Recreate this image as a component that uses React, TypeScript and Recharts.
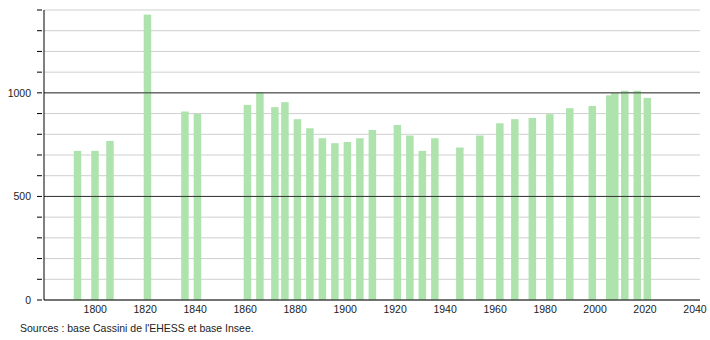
import { Bar, BarChart, CartesianGrid, ReferenceLine, XAxis, YAxis } from "recharts";

const years = [
  1793, 1800, 1806, 1821, 1836, 1841, 1861, 1866, 1872, 1876, 1881, 1886, 1891, 1896, 1901, 1906, 1911, 1921,
  1926, 1931, 1936, 1946, 1954, 1962, 1968, 1975, 1982, 1990, 1999, 2006, 2008, 2012, 2017, 2021,
];
const population = [
  720, 720, 768, 1378, 910, 899, 942, 1003, 931, 955, 873, 829, 781, 757, 763, 781, 821, 845, 794, 720, 781,
  736, 794, 853, 873, 879, 897, 926, 937, 988, 1000, 1010, 1010, 976,
];
const xTicks = [1800, 1820, 1840, 1860, 1880, 1900, 1920, 1940, 1960, 1980, 2000, 2020, 2040];
const yTicks = [0, 100, 200, 300, 400, 500, 600, 700, 800, 900, 1000, 1100, 1200, 1300, 1400];
const yLabels = [0, 500, 1000];

const data = years.map((year, i) => ({ year, population: population[i] }));

const FONT = "'Liberation Sans', Arial, sans-serif";
const BAR_W = 7.5;

function YTick(props: any) {
  const { x, y, payload } = props;
  const v = payload.value as number;
  return (
    <g>
      <line x1={x + 1} x2={x + 6} y1={y} y2={y} stroke="#000" />
      {yLabels.includes(v) && (
        <text x={x - 5} y={y} dy={4} textAnchor="end" fontSize={10.5} fill="#222" fontFamily={FONT}>
          {v}
        </text>
      )}
    </g>
  );
}

// numeric axis squeezes the band to the 2006-2008 gap, so widen around the centre
function WideBar(props: any) {
  const { x, y, width, height, fill } = props;
  if (!height || height <= 0) return null;
  const cx = x + width / 2;
  return <rect x={cx - BAR_W / 2} y={y} width={BAR_W} height={height} fill={fill} />;
}

export default function App() {
  return (
    <div style={{ position: "absolute", left: 0, top: 0, width: 710, height: 340, background: "#fff" }}>
      <BarChart width={710} height={322} data={data} margin={{ top: 10, right: 10, bottom: 0, left: 0 }}>
        <CartesianGrid vertical={false} stroke="#cfcfcf" horizontalValues={yTicks} />
        <ReferenceLine y={500} stroke="#333" />
        <ReferenceLine y={1000} stroke="#333" />
        <XAxis
          dataKey="year"
          type="number"
          domain={[1779.5, 2042]}
          allowDataOverflow
          ticks={xTicks}
          tickLine={false}
          tickSize={0}
          tickMargin={6}
          axisLine={{ stroke: "#000" }}
          tick={{ fontSize: 10.5, fill: "#222", fontFamily: FONT }}
          height={22}
        />
        <YAxis
          type="number"
          domain={[0, 1400]}
          ticks={yTicks}
          interval={0}
          tickLine={false}
          axisLine={{ stroke: "#000" }}
          tick={<YTick />}
          width={44}
        />
        <Bar dataKey="population" fill="#aee3ae" barSize={8} shape={<WideBar />} isAnimationActive={false} />
      </BarChart>
      <div
        style={{
          position: "absolute",
          left: 20,
          top: 322,
          fontSize: 10.5,
          color: "#222",
          fontFamily: FONT,
        }}
      >
        Sources : base Cassini de l'EHESS et base Insee.
      </div>
    </div>
  );
}
